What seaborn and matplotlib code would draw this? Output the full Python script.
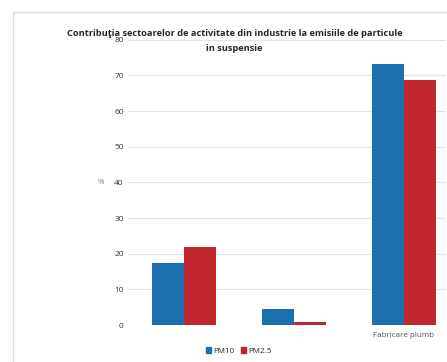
import matplotlib
matplotlib.use("Agg")
import matplotlib.pyplot as plt
import numpy as np
import pandas as pd
import seaborn as sns
from matplotlib.patches import Rectangle

categories = ["Sector 1", "Sector 2", "Fabricare plumb"]
tick_labels = ["", "", "Fabricare plumb"]
pm10 = [17.4, 4.5, 73.3]
pm25 = [21.9, 0.8, 68.8]
series = ["PM10", "PM2.5"]
colors = ["#1c6fae", "#c1272f"]

df = pd.DataFrame({
    "Sector": categories * 2,
    "Value": pm10 + pm25,
    "Poluant": [series[0]] * 3 + [series[1]] * 3,
})

sns.set_style("white")
plt.rcParams["font.family"] = ["Open Sans", "DejaVu Sans"]

fig = plt.figure(figsize=(4.47, 3.62), dpi=100)
ax = fig.add_axes([0.286, 0.102, 0.711, 0.788])

sns.barplot(data=df, x="Sector", y="Value", hue="Poluant", palette=colors,
            width=0.58, saturation=1, linewidth=0, ax=ax, legend=False)

ax.set_ylim(0, 80)
ax.set_xlim(-0.51, 2.38)
ax.set_yticks(np.arange(0, 81, 10))
ax.tick_params(axis="y", labelsize=6, colors="#333333", length=0, pad=3)
ax.set_xticks(range(3))
ax.set_xticklabels(tick_labels, fontsize=5.8, color="#555555")
ax.tick_params(axis="x", length=0, pad=5)
ax.yaxis.grid(True, color="#e4e4e4", linewidth=0.8)
ax.set_axisbelow(True)
for s in ax.spines.values():
    s.set_visible(False)
ax.set_xlabel("")
ax.set_ylabel("%", fontsize=5.8, color="#777777", rotation=0, va="center")
ax.yaxis.set_label_coords(-0.085, 0.5)

fig.text(0.525, 0.907, "Contribuţia sectoarelor de activitate din industrie la emisiile de particule",
         ha="center", va="center", fontsize=6.7, fontweight="bold")
fig.text(0.525, 0.867, "in suspensie", ha="center", va="center", fontsize=6.7, fontweight="bold")

handles = [Rectangle((0, 0), 1, 1, color=c) for c in colors]
fig.legend(handles, series, loc="center", bbox_to_anchor=(0.535, 0.03), ncol=2,
           frameon=False, fontsize=5.8, handlelength=0.6, handleheight=0.6,
           handletextpad=0.3, columnspacing=0.8)

fig.add_artist(Rectangle((0.028, -0.05), 1.0, 1.016, transform=fig.transFigure,
                         fill=False, edgecolor="#dddddd", linewidth=1))

fig.savefig("out.png", dpi=100)
